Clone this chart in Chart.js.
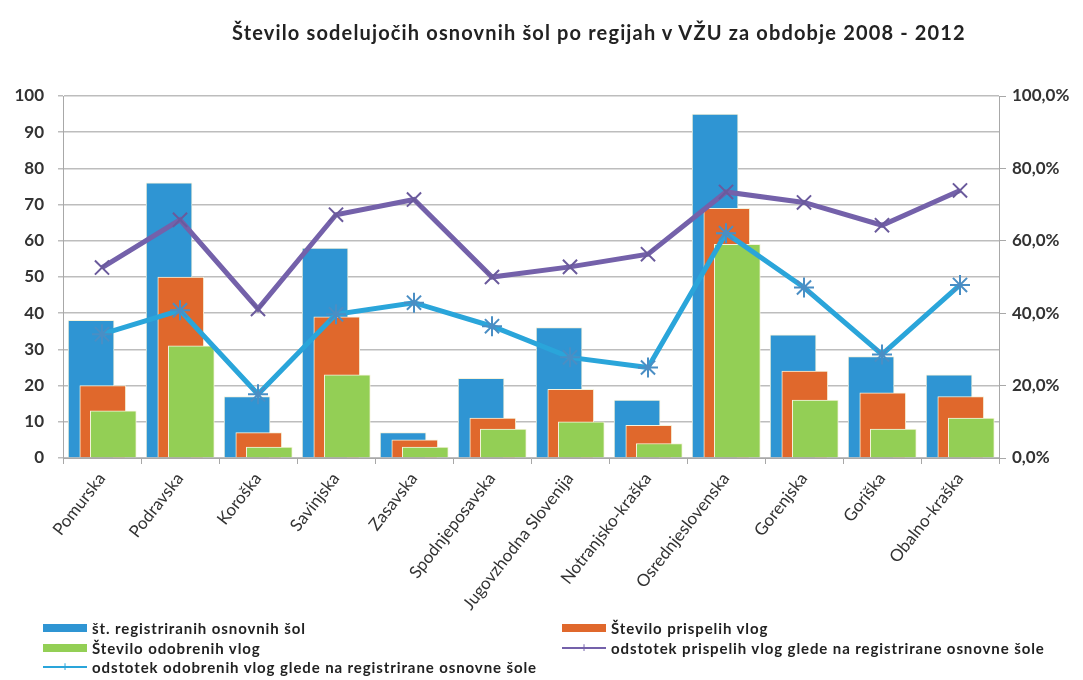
<!DOCTYPE html>
<html lang="sl">
<head>
<meta charset="utf-8">
<title>Število sodelujočih osnovnih šol</title>
<script src="https://cdn.jsdelivr.net/npm/chart.js@4.4.1/dist/chart.umd.min.js"></script>
<style>
  body { margin: 0; background: #fff; }
  #okvir { position: relative; width: 1083px; height: 680px; overflow: hidden; font-family: Lato, "Open Sans", sans-serif; }
  #naslov { position: absolute; left: 232px; top: 20px; font-weight: bold; font-size: 20px; letter-spacing: 1.15px; color: #222; white-space: nowrap; }
  .leg { position: absolute; font-weight: bold; font-size: 15px; letter-spacing: 0.9px; color: #222; white-space: nowrap; line-height: 16px; }
  .znak { position: absolute; }
  .crta { position: absolute; height: 2px; }
  .crta::after { content: "+"; position: absolute; left: 50%; top: -8px; transform: translateX(-50%); font-size: 13px; color: inherit; }
</style>
</head>
<body>
<div id="okvir">
  <canvas id="graf" width="1083" height="680"></canvas>
  <div id="naslov">Število sodelujočih osnovnih šol po regijah v VŽU za obdobje 2008 - 2012</div>
  <div id="legenda"></div>
</div>
<script>
// podatki, odčitani z grafa
const regije = ["Pomurska", "Podravska", "Koroška", "Savinjska", "Zasavska", "Spodnjeposavska",
  "Jugovzhodna Slovenija", "Notranjsko-kraška", "Osrednjeslovenska", "Gorenjska", "Goriška", "Obalno-kraška"];
const stRegistriranih = [38, 76, 17, 58, 7, 22, 36, 16, 95, 34, 28, 23];
const stPrispelih = [20, 50, 7, 39, 5, 11, 19, 9, 69, 24, 18, 17];
const stOdobrenih = [13, 31, 3, 23, 3, 8, 10, 4, 59, 16, 8, 11];
const odstPrispelih = [52.6, 65.8, 41.2, 67.2, 71.4, 50.0, 52.8, 56.3, 73.5, 70.6, 64.3, 73.9];
const odstOdobrenih = [34.2, 40.8, 17.6, 39.7, 42.9, 36.4, 27.8, 25.0, 62.1, 47.1, 28.6, 47.8];
const desneOznake = ["0,0%", "20,0%", "40,0%", "60,0%", "80,0%", "100,0%"];

// barve
const modra = "#2f95d3";
const oranzna = "#e0682c";
const zelena = "#93cf55";
const vijolicna = "#7461aa";
const svetloModra = "#2aa5da";

// stolpci so zamaknjeni znotraj kategorije in se prekrivajo
function tocke(vrednosti, zamik) {
  return vrednosti.map((v, i) => ({ x: i + 0.5 + zamik, y: v }));
}

const ctx = document.getElementById("graf").getContext("2d");
const graf = new Chart(ctx, {
  type: "bar",
  data: {
    labels: regije,
    datasets: [
      {
        type: "line",
        label: "odstotek prispelih vlog glede na registrirane osnovne šole",
        data: tocke(odstPrispelih, 0),
        xAxisID: "xl",
        yAxisID: "y1",
        borderColor: vijolicna,
        borderWidth: 5,
        pointStyle: "crossRot",
        pointRadius: 10,
        pointBorderWidth: 2,
        pointBorderColor: "#6a5a9c",
        order: 0,
      },
      {
        type: "line",
        label: "odstotek odobrenih vlog glede na registrirane osnovne šole",
        data: tocke(odstOdobrenih, 0),
        xAxisID: "xl",
        yAxisID: "y1",
        borderColor: svetloModra,
        borderWidth: 5,
        pointStyle: "star",
        pointRadius: 10,
        pointBorderWidth: 2,
        pointBorderColor: "#4a8ec4",
        order: 0,
      },
      {
        label: "Število odobrenih vlog",
        data: tocke(stOdobrenih, 0.145),
        xAxisID: "xl",
        yAxisID: "y",
        backgroundColor: zelena,
        borderColor: "#f6f3dc",
        borderWidth: 1,
        order: 1,
      },
      {
        label: "Število prispelih vlog",
        data: tocke(stPrispelih, 0.01),
        xAxisID: "xl",
        yAxisID: "y",
        backgroundColor: oranzna,
        borderColor: "#f6f3dc",
        borderWidth: 1,
        order: 2,
      },
      {
        label: "št. registriranih osnovnih šol",
        data: tocke(stRegistriranih, -0.14),
        xAxisID: "xl",
        yAxisID: "y",
        backgroundColor: modra,
        borderColor: "#f6f3dc",
        borderWidth: 1,
        order: 3,
      },
    ],
  },
  options: {
    responsive: false,
    animation: false,
    layout: { padding: { top: 96, left: 0, right: 0, bottom: 0 } },
    datasets: {
      bar: { grouped: false, barThickness: 46 },
      line: { tension: 0 },
    },
    plugins: {
      legend: { display: false },
      title: { display: false },
      tooltip: { enabled: false },
    },
    scales: {
      xl: {
        type: "linear",
        display: false,
        offset: false,
        grid: { offset: false },
        min: 0,
        max: 12,
      },
      x: {
        type: "category",
        position: "bottom",
        labels: regije,
        offset: true,
        grid: { offset: true, drawOnChartArea: false, drawTicks: true, tickLength: 6, color: "#a8a8a8" },
        border: { display: true, color: "#a8a8a8" },
        ticks: {
          autoSkip: false,
          minRotation: 52,
          maxRotation: 52,
          color: "#333",
          font: { family: "Lato", size: 17 },
          padding: 5,
        },
        afterFit: (os) => { os.height = 222; },
      },
      y: {
        position: "left",
        min: 0,
        max: 100,
        ticks: { stepSize: 10, color: "#333", font: { family: "Lato", size: 17, weight: "bold" }, padding: 14 },
        grid: { color: "#bdbdbd", lineWidth: 1.5, tickLength: 5 },
        border: { display: true, color: "#a8a8a8" },
        afterFit: (os) => { os.width = 63; },
      },
      y1: {
        position: "right",
        min: 0,
        max: 100,
        ticks: {
          stepSize: 20,
          color: "#333",
          font: { family: "Lato", size: 17, weight: "bold" },
          padding: 6,
          callback: (v, i) => desneOznake[i],
        },
        grid: { drawOnChartArea: false, tickLength: 7, color: "#a8a8a8" },
        border: { display: true, color: "#a8a8a8" },
        afterFit: (os) => { os.width = 84; },
      },
    },
  },
});

// legenda v dveh stolpcih kot v izvirniku
const postavke = [
  { besedilo: "št. registriranih osnovnih šol", barva: modra, vrsta: "stolpec", x: 43, y: 628 },
  { besedilo: "Število prispelih vlog", barva: oranzna, vrsta: "stolpec", x: 562, y: 628 },
  { besedilo: "Število odobrenih vlog", barva: zelena, vrsta: "stolpec", x: 43, y: 648 },
  { besedilo: "odstotek prispelih vlog glede na registrirane osnovne šole", barva: vijolicna, vrsta: "crta", x: 562, y: 648 },
  { besedilo: "odstotek odobrenih vlog glede na registrirane osnovne šole", barva: svetloModra, vrsta: "crta", x: 43, y: 667 },
];
const legenda = document.getElementById("legenda");
postavke.forEach((p) => {
  const znak = document.createElement("div");
  if (p.vrsta === "stolpec") {
    znak.className = "znak";
    znak.style.cssText = `left:${p.x}px;top:${p.y - 4}px;width:44px;height:8px;background:${p.barva}`;
  } else {
    znak.className = "crta";
    znak.style.cssText = `left:${p.x}px;top:${p.y - 1}px;width:44px;background:${p.barva};color:${p.barva}`;
  }
  legenda.appendChild(znak);
  const tekst = document.createElement("div");
  tekst.className = "leg";
  tekst.textContent = p.besedilo;
  tekst.style.left = p.x + 49 + "px";
  tekst.style.top = p.y - 8 + "px";
  legenda.appendChild(tekst);
});
</script>
</body>
</html>
